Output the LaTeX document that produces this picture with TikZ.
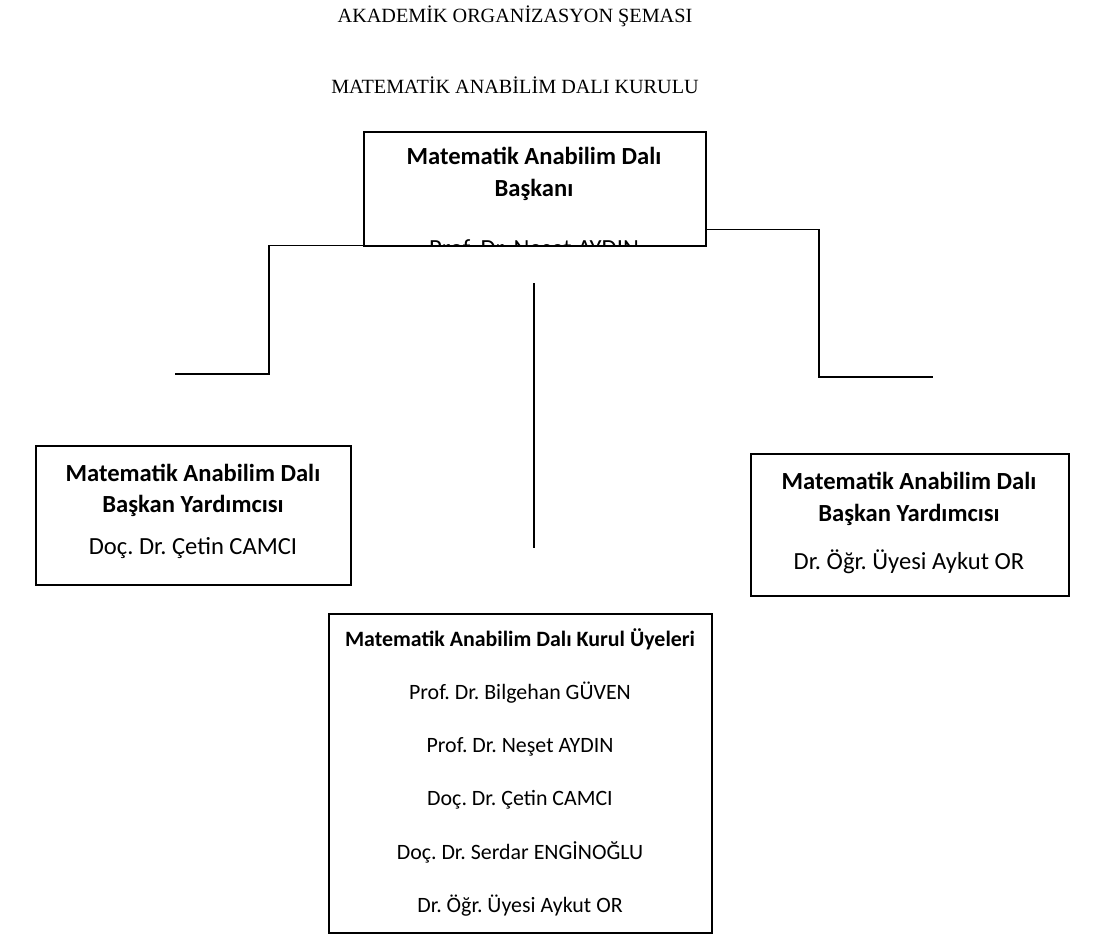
\documentclass[tikz,border=0pt]{standalone}
\usepackage{fontspec}
\setmainfont{Liberation Serif}
\newfontfamily\calibri{Carlito}
\usetikzlibrary{positioning}
\frenchspacing

\tikzset{
  orgbox/.style = {draw, line width=1.6pt, inner sep=0pt, anchor=north west},
  boxtext/.style = {anchor=base, inner sep=0pt, font=\calibri\fontsize{24.6}{30}\selectfont},
  boxhead/.style = {boxtext, font=\calibri\bfseries\fontsize{24.6}{30}\selectfont},
  listtext/.style = {anchor=base, inner sep=0pt, font=\calibri\fontsize{21.9}{26}\selectfont},
  listhead/.style = {listtext, font=\calibri\bfseries\fontsize{21.9}{26}\selectfont},
  titletext/.style = {anchor=base, inner sep=0pt, font=\fontsize{20.2}{24}\selectfont},
  link/.style = {line width=1.5pt}
}

\begin{document}
\begin{tikzpicture}[x=1pt, y=-1pt]
\useasboundingbox (0,0) rectangle (1098,936);

% titles
\node[titletext] (title) at (515,23) {AKADEMİK ORGANİZASYON ŞEMASI};
\node[titletext] (council) at (515,94) {MATEMATİK ANABİLİM DALI KURULU};

% boxes
\node[orgbox, minimum width=342pt, minimum height=114pt] (head) at (363,131) {};
\node[orgbox, minimum width=315pt, minimum height=139pt] (vleft) at (35,445) {};
\node[orgbox, minimum width=318pt, minimum height=142pt] (vright) at (750,453) {};
\node[orgbox, minimum width=383pt, minimum height=319pt] (members) at (328,613) {};

% head of department (text runs past the box bottom)
\node[boxhead] (headA) at (534,165) {Matematik Anabilim Dalı};
\node[boxhead] (headB) at (534,197) {Başkanı};
\begin{scope}
  \clip (head.south west) rectangle (head.north east);
  \node[boxtext] (headC) at (534,257) {Prof. Dr. Neşet AYDIN};
\end{scope}

% vice heads
\node[boxhead] (vleftA) at (193,481) {Matematik Anabilim Dalı};
\node[boxhead] (vleftB) at (193,512) {Başkan Yardımcısı};
\node[boxtext] (vleftC) at (193,554) {Doç. Dr. Çetin CAMCI};

\node[boxhead] (vrightA) at (909,489) {Matematik Anabilim Dalı};
\node[boxhead] (vrightB) at (909,521) {Başkan Yardımcısı};
\node[boxtext] (vrightC) at (909,569) {Dr. Öğr. Üyesi Aykut OR};

% council members
\node[listhead] (mem0) at (520,646) {Matematik Anabilim Dalı Kurul Üyeleri};
\foreach \name [count=\i] in {Prof. Dr. Bilgehan GÜVEN, Prof. Dr. Neşet AYDIN,
    Doç. Dr. Çetin CAMCI, Doç. Dr. Serdar ENGİNOĞLU, Dr. Öğr. Üyesi Aykut OR}
  \node[listtext] (mem\i) at (520,646+53.3*\i) {\name};

% connectors
\coordinate (lknee) at (269,374);
\coordinate (lend) at (175,374);
\coordinate (rknee) at (819,377);
\coordinate (rend) at (933,377);
\coordinate (ctop) at (534,283);
\coordinate (cbot) at (534,548);

\draw[link] ([yshift=1pt]head.south west) -| (lknee) -- (lend);
\draw[link] ([yshift=17pt]head.south east) -| (rknee) -- (rend);
\draw[link] (ctop) -- (cbot);
\end{tikzpicture}
\end{document}
